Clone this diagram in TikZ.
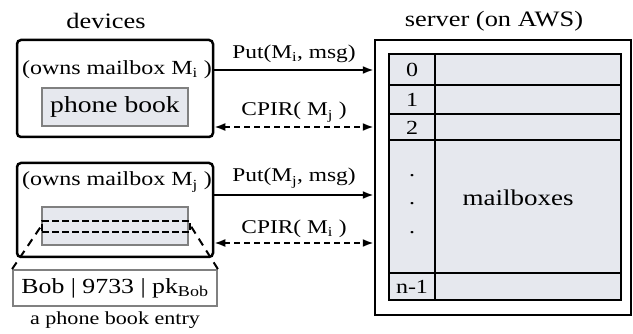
\documentclass[tikz,border=0pt]{standalone}
\usepackage{fontspec}
\setmainfont{Liberation Serif}[FakeStretch=1.2]
\usetikzlibrary{positioning}
\usetikzlibrary{arrows.meta}
\definecolor{cellfill}{HTML}{E6E8EE}
\definecolor{cellline}{HTML}{808080}
\tikzset{
  device/.style={draw=black,line width=2.5pt,rounded corners=4pt,inner sep=0},
  graybox/.style={draw=cellline,line width=1.8pt,fill=cellfill,inner sep=0},
  cell/.style={draw=black,line width=1.6pt,fill=cellfill,inner sep=0},
  msg/.style={line width=2pt,-{Latex[length=11pt,width=8pt]}},
  query/.style={line width=2pt,dash pattern=on 6pt off 4pt,{Latex[length=11pt,width=8pt]}-{Latex[length=11pt,width=8pt]}},
  title/.style={font=\fontsize{22}{25}\selectfont},
  lbl/.style={font=\fontsize{19.5}{22}\selectfont,inner sep=1pt},
  own/.style={font=\fontsize{20}{23}\selectfont,inner sep=0},
  idx/.style={font=\fontsize{20}{23}\selectfont,inner sep=0}
}

\begin{document}
\begin{tikzpicture}[x=1pt,y=-1pt]
  \useasboundingbox (0,0) rectangle (633,334);
  % devices
  \node[title] (devs) at (106,21) {devices};
  \node[device,minimum width=196pt,minimum height=97pt] (dev1) at (115,88.5) {};
  \node[own] (own1) at (117,70) {(owns mailbox M\textsubscript{i} )};
  \node[graybox,minimum width=146pt,minimum height=38pt,font=\fontsize{23}{26}\selectfont] (book) at (115,107) {phone book};
  \node[device,minimum width=196pt,minimum height=94pt] (dev2) at (115,210) {};
  \node[own] (own2) at (117,182) {(owns mailbox M\textsubscript{j} )};
  \node[graybox,minimum width=146pt,minimum height=38pt] (book2) at (115,226) {};
  \node[draw,line width=2.2pt,dash pattern=on 7pt off 3pt,minimum width=148pt,minimum height=11pt,inner sep=0] (row) at (116,226.5) {};
  % phone book entry
  \node[draw=cellline,line width=1.8pt,fill=white,minimum width=204pt,minimum height=36pt,inner sep=0,font=\fontsize{21.5}{24}\selectfont] (entry) at (115,288) {Bob | 9733 | pk\textsubscript{Bob}};
  \node[font=\fontsize{18.4}{21}\selectfont,inner sep=0] (cap) at (115,320) {a phone book entry};
  \draw[line width=2pt,dash pattern=on 8pt off 6pt] (entry.north west) -- (row.west);
  \draw[line width=2pt,dash pattern=on 8pt off 6pt] (entry.north east) -- (row.east);
  % server
  \node[title] (srvname) at (494,21) {server (on AWS)};
  \node[draw,line width=2.5pt,minimum width=256pt,minimum height=275pt,inner sep=0] (srv) at (503,177.5) {};
  \draw[cell] (389,54) rectangle (435,85) (435,54) rectangle (621,85);
  \draw[cell] (389,85) rectangle (435,114) (435,85) rectangle (621,114);
  \draw[cell] (389,114) rectangle (435,140) (435,114) rectangle (621,140);
  \draw[cell] (389,140) rectangle (435,273) (435,140) rectangle (621,273);
  \draw[cell] (389,273) rectangle (435,300) (435,273) rectangle (621,300);
  \node[idx] (r0) at (412,70) {0};
  \node[idx] (r1) at (412,100) {1};
  \node[idx] (r2) at (412,128) {2};
  \node[idx] (rn) at (412,287) {n-1};
  \node[idx] (d1) at (412,176) {.};
  \node[idx] (d2) at (412,204) {.};
  \node[idx] (d3) at (412,233) {.};
  \node[font=\fontsize{22.5}{25}\selectfont] (mb) at (518,198) {mailboxes};
  % connectors
  \coordinate (q1) at (0,127);
  \coordinate (p2) at (0,195);
  \coordinate (q2) at (0,243);
  \draw[msg] (own1 -| dev1.east) -- (own1 -| srv.west) node[lbl,midway,above=5pt] (put1) {Put(M\textsubscript{i}, msg)};
  \draw[query] (q1 -| dev1.east) -- (q1 -| srv.west) node[lbl,midway,above=3pt] (cpir1) {CPIR( M\textsubscript{j} )};
  \draw[msg] (p2 -| dev2.east) -- (p2 -| srv.west) node[lbl,midway,above=5pt] (put2) {Put(M\textsubscript{j}, msg)};
  \draw[query] (q2 -| dev2.east) -- (q2 -| srv.west) node[lbl,midway,above=3pt] (cpir2) {CPIR( M\textsubscript{i} )};
\end{tikzpicture}
\end{document}
